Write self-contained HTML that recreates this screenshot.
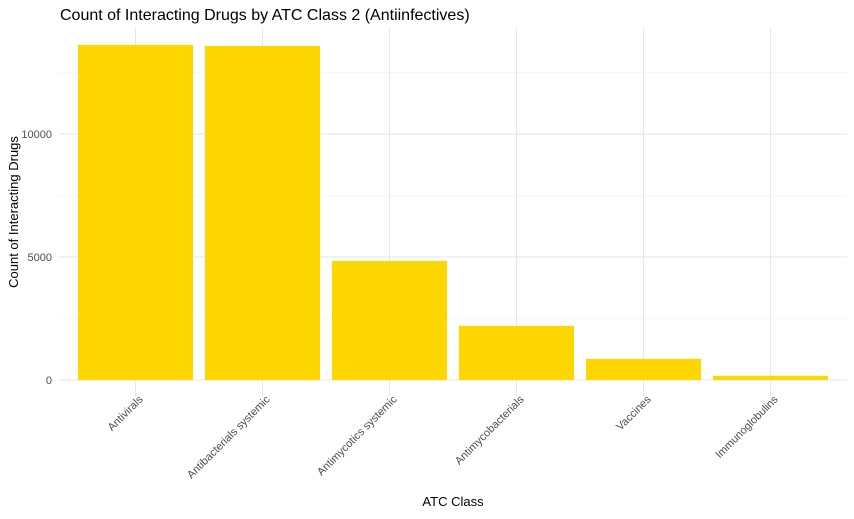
<!DOCTYPE html>
<html><head><meta charset="utf-8"><style>body{margin:0;background:#fff}text{font-family:"Liberation Sans",sans-serif}</style></head>
<body>
<svg id="chart" width="854" height="514">
<text x="60" y="20" font-size="16" fill="#000">Count of Interacting Drugs by ATC Class 2 (Antiinfectives)</text>
<g id="grid"></g><g id="bars"></g><g id="axes"></g>
<text x="453" y="506" font-size="13" text-anchor="middle" fill="#000">ATC Class</text>
<text transform="translate(18,212) rotate(-90)" font-size="13" text-anchor="middle" fill="#000">Count of Interacting Drugs</text>
</svg>
<script>
const categories=["Antivirals","Antibacterials systemic","Antimycotics systemic","Antimycobacterials","Vaccines","Immunoglobulins"];
const values=[13620,13580,4840,2200,860,170];
const yTicks=[0,5000,10000];
const yMinor=[2500,7500,12500];
const ns="http://www.w3.org/2000/svg";
const y0=380,pxPer=123/5000,left=59.3,band=127;
const y=v=>y0-v*pxPer;
const xc=i=>left+band*(0.6+i);
const g=document.getElementById('grid'),b=document.getElementById('bars'),a=document.getElementById('axes');
function mk(p,t,at){const e=document.createElementNS(ns,t);for(const k in at)e.setAttribute(k,at[k]);p.appendChild(e);return e;}
yMinor.forEach(v=>{const l=mk(g,'line',{x1:59,x2:847,y1:y(v),y2:y(v),stroke:'#f0f0f0','stroke-width':0.6});

});
yTicks.forEach(v=>{const l=mk(g,'line',{x1:59,x2:847,y1:y(v),y2:y(v),stroke:'#e6e6e6','stroke-width':1});


const t=mk(a,'text',{x:52,y:y(v)+4,'font-size':11,'text-anchor':'end',fill:'#4d4d4d'});t.textContent=v;

});
categories.forEach((c,i)=>{const x=xc(i);
const l=mk(g,'line',{x1:x,x2:x,y1:28,y2:396,stroke:'#e6e6e6','stroke-width':1});


const r=mk(b,'rect',{x:x-57.5,y:y(values[i]),width:115,height:values[i]*pxPer,fill:'#FFD700'});


const t=mk(a,'text',{transform:`translate(${x+8},${400}) rotate(-45)`,'font-size':11,'text-anchor':'end',fill:'#4d4d4d'});t.textContent=c;

});
</script>
</body></html>
